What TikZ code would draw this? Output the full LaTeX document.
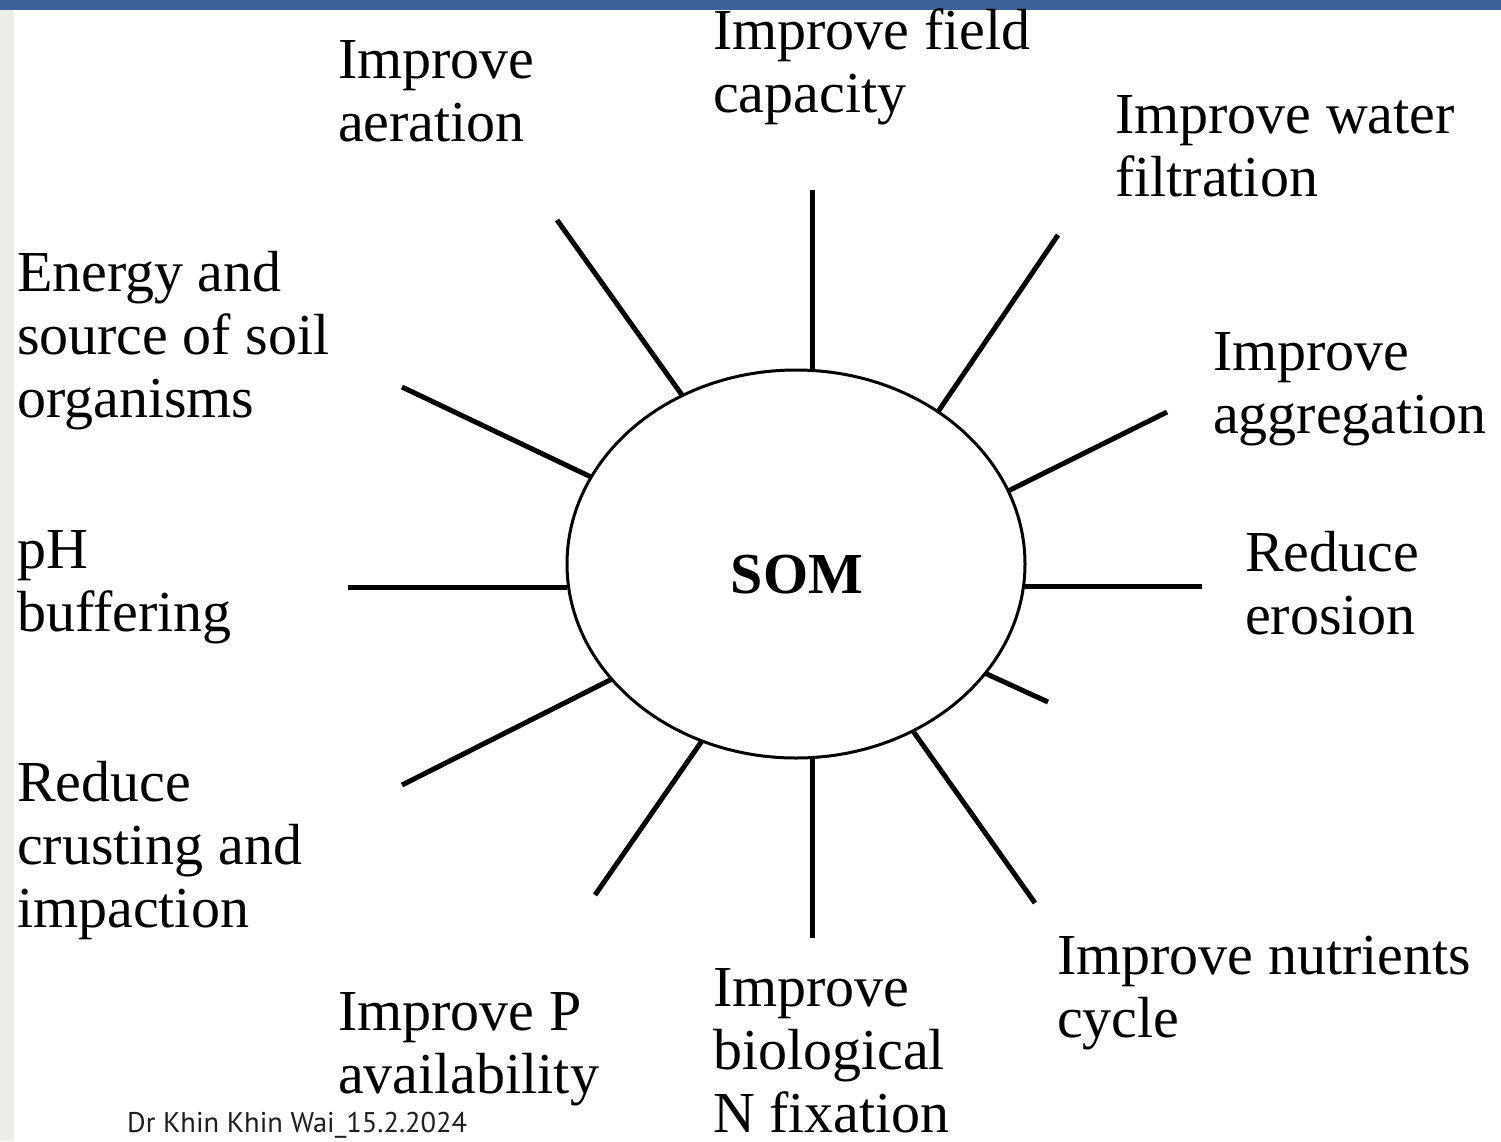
\documentclass[tikz,border=0pt]{standalone}
\usepackage{fontspec}
\usepackage{graphicx}
\setmainfont{Liberation Serif}
\newfontfamily\footfont{PT Sans}
\usetikzlibrary{shapes.geometric}
\definecolor{topbar}{RGB}{59,99,154}
\definecolor{sidebar}{RGB}{238,236,230}
\definecolor{foottext}{RGB}{30,30,30}
\begin{document}
\begin{tikzpicture}[x=1pt,y=-1pt,
  lab/.style={anchor=north west, align=left, inner sep=0pt, outer sep=0pt, font=\fontsize{58}{63}\selectfont},
  spoke/.style={line width=5pt},
  somshape/.style={ellipse, draw, line width=3pt, minimum width=458pt, minimum height=388pt, inner sep=0pt, outer sep=0pt}
]
\useasboundingbox (0,0) rectangle (1501,1141);
\fill[white] (0,0) rectangle (1501,1141);
\fill[sidebar] (0,0) rectangle (14,1141);
\fill[topbar] (0,0) rectangle (1501,10);

% central ellipse
\node[somshape] (som) at (796,564) {};
\node[anchor=base, inner sep=0pt, font=\fontsize{58}{63}\selectfont\bfseries] (somtxt) at (797,593) {SOM};

% outer spoke ends
\coordinate (oaer) at (557,220);
\coordinate (ofield) at (812,190);
\coordinate (owater) at (1058,235);
\coordinate (oenergy) at (402,387);
\coordinate (oaggr) at (1167,412);
\coordinate (oph) at (348,587);
\coordinate (oeros) at (1202,586);
\coordinate (ocrust) at (402,785);
\coordinate (oshort) at (1048,702);
\coordinate (ophos) at (595,895);
\coordinate (onfix) at (812,938);
\coordinate (onutr) at (1035,903);

% spokes
\draw[spoke] (som.124.2) -- (oaer);
\draw[spoke] (ofield |- som.north) -- (ofield);
\draw[spoke] (som.47.9) -- (owater);
\draw[spoke] (som.157.3) -- (oenergy);
\draw[spoke] (som.19.7) -- (oaggr);
\draw[spoke] (som.west |- oph) -- (oph);
\draw[spoke] (som.east |- oeros) -- (oeros);
\draw[spoke] (som.212.9) -- (ocrust);
\draw[spoke] (som.330.7) -- (oshort);
\draw[spoke] (som.242.6) -- (ophos);
\draw[spoke] (onfix |- som.south) -- (onfix);
\draw[spoke] (som.305.6) -- (onutr);

% labels
\node[lab] (laer) at (338,41) {Improve\\aeration};
\node[lab] (lfield) at (713,9) {Improve field\\capacity};
\node[lab] (lwater) at (1115,96) {Improve water\\filtration};
\node[lab] (lenergy) at (17,251) {Energy and\\source of soil\\organisms};
\node[lab] (laggr) at (1213,333) {Improve\\aggregation};
\node[lab] (lph) at (17,531) {pH\\buffering};
\node[lab] (leros) at (1245,531) {Reduce\\erosion};
\node[lab] (lcrust) at (17,761) {Reduce\\crusting and\\impaction};
\node[lab] (lphos) at (338,993) {Improve P\\availability};
\node[lab] (lnfix) at (713,969) {Improve\\biological\\N fixation};
\node[lab] (lnutr) at (1057,936) {Improve nutrients\\cycle};

% footer
\node[anchor=base west, inner sep=0pt, text=foottext] (foot) at (127,1132)
  {\resizebox{340pt}{!}{\footfont\fontsize{27}{30}\selectfont Dr Khin Khin Wai\_15.2.2024}};
\end{tikzpicture}
\end{document}
